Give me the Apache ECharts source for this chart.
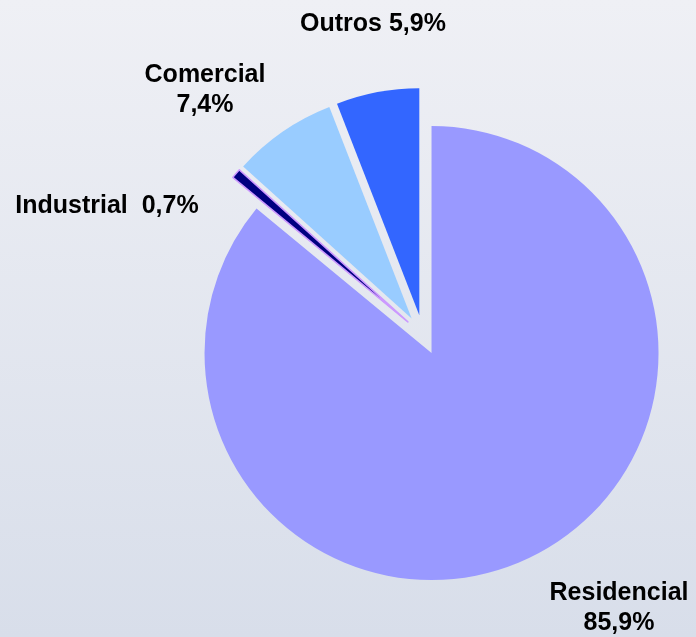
<!DOCTYPE html>
<html>
<head>
<meta charset="utf-8">
<script src="https://cdn.jsdelivr.net/npm/echarts@6/dist/echarts.min.js"></script>
<style>
  html, body { margin: 0; padding: 0; }
  #chart { width: 696px; height: 637px; }
</style>
</head>
<body>
<div id="chart"></div>
<script>
const sectors = ["Residencial", "Industrial", "Comercial", "Outros"];
const shares = [85.9, 0.7, 7.4, 5.9];
const separators = ["\n", "  ", "\n", " "];
const sliceColors = ["#9999ff", "#000080", "#99ccff", "#3366ff"];

// centre of each label block
const labelSpots = [[619, 608], [107, 206], [205, 90], [373, 24]];

const fmtPct = (v) => v.toFixed(1).replace(".", ",") + "%";

const chart = echarts.init(document.getElementById("chart"), null, { renderer: "canvas" });

chart.setOption({
  animation: false,
  backgroundColor: new echarts.graphic.LinearGradient(0, 0, 0, 1, [
    { offset: 0, color: "#eff0f5" },
    { offset: 1, color: "#d8deea" },
  ]),
  graphic: sectors.map((name, i) => ({
    type: "text",
    x: labelSpots[i][0],
    y: labelSpots[i][1],
    silent: true,
    style: {
      text: name + separators[i] + fmtPct(shares[i]),
      fill: "#000",
      font: "bold 25px 'Liberation Sans', Arial, sans-serif",
      lineHeight: 30,
      textAlign: "center",
      textVerticalAlign: "middle",
    },
  })),
  series: [
    {
      type: "pie",
      center: [423, 335],
      radius: [0, 227],
      startAngle: 90,
      clockwise: true,
      selectedMode: "multiple",
      selectedOffset: 20,
      emphasis: { disabled: true },
      label: { show: false },
      labelLine: { show: false },
      data: sectors.map((name, i) => ({
        name,
        value: shares[i],
        selected: true,
        itemStyle: {
          color: sliceColors[i],
          borderColor: i === 1 ? "#cc99ff" : "transparent",
          borderWidth: i === 1 ? 1.5 : 0,
        },
        select: {
          itemStyle: {
            color: sliceColors[i],
            borderColor: i === 1 ? "#cc99ff" : "transparent",
            borderWidth: i === 1 ? 1.5 : 0,
          },
        },
      })),
    },
  ],
});
</script>
</body>
</html>
